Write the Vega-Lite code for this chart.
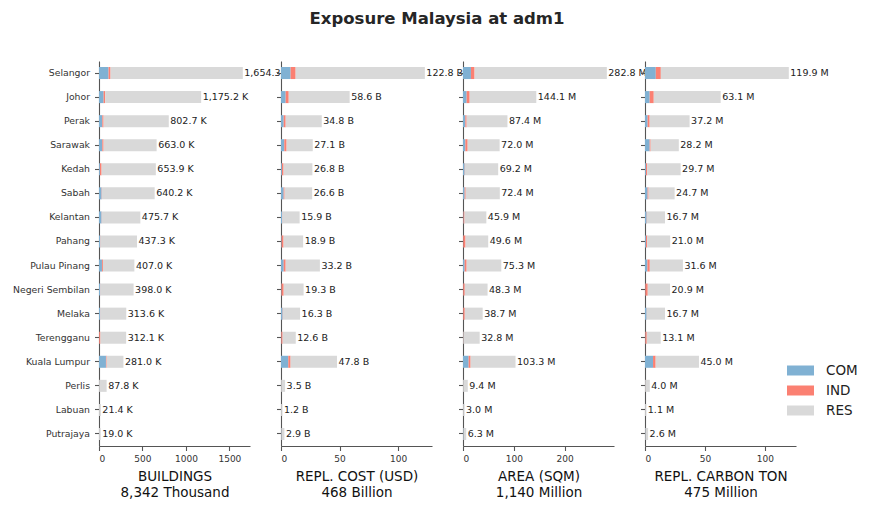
{
  "$schema": "https://vega.github.io/schema/vega-lite/v6.json",
  "padding": {"left": 12, "top": 10, "right": 5, "bottom": 5},
  "title": {"text": "Exposure Malaysia at adm1", "fontSize": 16.5, "font": "DejaVu Sans", "fontWeight": "bold", "color": "#262626", "anchor": "start", "dx": 297, "offset": 34},
  "config": {
    "font": "DejaVu Sans",
    "view": {"stroke": null},
    "axis": {"domainColor": "#555", "domainWidth": 1.1, "tickColor": "#555", "tickWidth": 1.1, "tickSize": 4.5, "labelPadding": 4, "labelColor": "#333", "labelFont": "DejaVu Sans", "labelFontSize": 9, "grid": false, "titleFont": "DejaVu Sans", "titleFontWeight": "normal", "titleFontSize": 13.5, "titleColor": "#111", "titleLineHeight": 16, "titlePadding": 6},
    "axisY": {"labelFontSize": 9.3, "labelPadding": 5}
  },
  "data": {"values": [
    {"region": "Selangor", "sector": "COM", "bld": 110, "cost": 8.2, "area": 15.6, "carbon": 9.0},
    {"region": "Selangor", "sector": "IND", "bld": 23, "cost": 4.3, "area": 7.2, "carbon": 4.2},
    {"region": "Selangor", "sector": "RES", "bld": 1521.3, "cost": 110.3, "area": 260.0, "carbon": 106.7},
    {"region": "Johor", "sector": "COM", "bld": 53, "cost": 4.0, "area": 7.2, "carbon": 3.9},
    {"region": "Johor", "sector": "IND", "bld": 18, "cost": 2.6, "area": 5.9, "carbon": 3.4},
    {"region": "Johor", "sector": "RES", "bld": 1104.2, "cost": 52.0, "area": 131.0, "carbon": 55.8},
    {"region": "Perak", "sector": "COM", "bld": 38, "cost": 2.3, "area": 4.6, "carbon": 2.2},
    {"region": "Perak", "sector": "IND", "bld": 15, "cost": 1.7, "area": 2.6, "carbon": 1.7},
    {"region": "Perak", "sector": "RES", "bld": 749.7, "cost": 30.8, "area": 80.2, "carbon": 33.3},
    {"region": "Sarawak", "sector": "COM", "bld": 38, "cost": 2.8, "area": 4.6, "carbon": 3.9},
    {"region": "Sarawak", "sector": "IND", "bld": 15, "cost": 2.0, "area": 4.6, "carbon": 0.8},
    {"region": "Sarawak", "sector": "RES", "bld": 610.0, "cost": 22.3, "area": 62.8, "carbon": 23.5},
    {"region": "Kedah", "sector": "COM", "bld": 11, "cost": 0.8, "area": 3.3, "carbon": 0.8},
    {"region": "Kedah", "sector": "IND", "bld": 19, "cost": 1.4, "area": 0.5, "carbon": 1.1},
    {"region": "Kedah", "sector": "RES", "bld": 623.9, "cost": 24.6, "area": 65.4, "carbon": 27.8},
    {"region": "Sabah", "sector": "COM", "bld": 30, "cost": 2.3, "area": 3.3, "carbon": 2.2},
    {"region": "Sabah", "sector": "IND", "bld": 3, "cost": 0.8, "area": 2.0, "carbon": 0.8},
    {"region": "Sabah", "sector": "RES", "bld": 607.2, "cost": 23.5, "area": 67.1, "carbon": 21.7},
    {"region": "Kelantan", "sector": "COM", "bld": 30, "cost": 1.1, "area": 1.0, "carbon": 1.4},
    {"region": "Kelantan", "sector": "IND", "bld": 2, "cost": 0.2, "area": 2.0, "carbon": 0.2},
    {"region": "Kelantan", "sector": "RES", "bld": 443.7, "cost": 14.6, "area": 42.9, "carbon": 15.1},
    {"region": "Pahang", "sector": "COM", "bld": 15, "cost": 0.5, "area": 0.5, "carbon": 0.8},
    {"region": "Pahang", "sector": "IND", "bld": 3, "cost": 1.7, "area": 4.5, "carbon": 1.1},
    {"region": "Pahang", "sector": "RES", "bld": 419.3, "cost": 16.7, "area": 44.6, "carbon": 19.1},
    {"region": "Pulau Pinang", "sector": "COM", "bld": 34, "cost": 2.3, "area": 3.3, "carbon": 2.0},
    {"region": "Pulau Pinang", "sector": "IND", "bld": 11, "cost": 1.7, "area": 3.9, "carbon": 2.0},
    {"region": "Pulau Pinang", "sector": "RES", "bld": 362.0, "cost": 29.2, "area": 68.1, "carbon": 27.6},
    {"region": "Negeri Sembilan", "sector": "COM", "bld": 15, "cost": 0.4, "area": 0.5, "carbon": 0.3},
    {"region": "Negeri Sembilan", "sector": "IND", "bld": 2, "cost": 1.9, "area": 3.0, "carbon": 2.0},
    {"region": "Negeri Sembilan", "sector": "RES", "bld": 381.0, "cost": 17.0, "area": 44.8, "carbon": 18.6},
    {"region": "Melaka", "sector": "COM", "bld": 15, "cost": 1.4, "area": 0.5, "carbon": 1.4},
    {"region": "Melaka", "sector": "IND", "bld": 2, "cost": 0.2, "area": 3.0, "carbon": 0.1},
    {"region": "Melaka", "sector": "RES", "bld": 296.6, "cost": 14.7, "area": 35.2, "carbon": 15.2},
    {"region": "Terengganu", "sector": "COM", "bld": 2, "cost": 0.3, "area": 0.3, "carbon": 0.3},
    {"region": "Terengganu", "sector": "IND", "bld": 15, "cost": 1.1, "area": 0.5, "carbon": 1.2},
    {"region": "Terengganu", "sector": "RES", "bld": 295.1, "cost": 11.2, "area": 32.0, "carbon": 11.6},
    {"region": "Kuala Lumpur", "sector": "COM", "bld": 80, "cost": 6.2, "area": 11.1, "carbon": 6.7},
    {"region": "Kuala Lumpur", "sector": "IND", "bld": 8, "cost": 2.0, "area": 3.9, "carbon": 2.2},
    {"region": "Kuala Lumpur", "sector": "RES", "bld": 193.0, "cost": 39.6, "area": 88.3, "carbon": 36.1},
    {"region": "Perlis", "sector": "COM", "bld": 1, "cost": 0.1, "area": 0.2, "carbon": 0.1},
    {"region": "Perlis", "sector": "IND", "bld": 1, "cost": 0.1, "area": 0.2, "carbon": 0.1},
    {"region": "Perlis", "sector": "RES", "bld": 85.8, "cost": 3.3, "area": 9.0, "carbon": 3.8},
    {"region": "Labuan", "sector": "COM", "bld": 1, "cost": 0.1, "area": 0.3, "carbon": 0.1},
    {"region": "Labuan", "sector": "IND", "bld": 0.5, "cost": 0.05, "area": 0.1, "carbon": 0.05},
    {"region": "Labuan", "sector": "RES", "bld": 19.9, "cost": 1.05, "area": 2.6, "carbon": 0.95},
    {"region": "Putrajaya", "sector": "COM", "bld": 1, "cost": 0.3, "area": 0.8, "carbon": 0.3},
    {"region": "Putrajaya", "sector": "IND", "bld": 0.2, "cost": 0.05, "area": 0.05, "carbon": 0.05},
    {"region": "Putrajaya", "sector": "RES", "bld": 17.8, "cost": 2.55, "area": 5.45, "carbon": 2.25}
  ]},
  "spacing": 31,
  "bounds": "flush",
  "resolve": {"scale": {"x": "independent", "y": "independent", "color": "shared"}},
  "hconcat": [
    {
      "width": 151, "height": 385,
      "layer": [
        {"mark": {"type": "bar"},
         "encoding": {
           "y": {"field": "region", "type": "nominal", "sort": ["Selangor","Johor","Perak","Sarawak","Kedah","Sabah","Kelantan","Pahang","Pulau Pinang","Negeri Sembilan","Melaka","Terengganu","Kuala Lumpur","Perlis","Labuan","Putrajaya"], "scale": {"paddingInner": 0.5, "paddingOuter": 0.25}, "axis": {"title": null}},
           "x": {"field": "bld", "type": "quantitative", "stack": "zero", "scale": {"domain": [0, 1737], "nice": false}, "axis": {"values": [0, 500, 1000, 1500], "format": "d", "title": ["BUILDINGS", "8,342 Thousand"]}},
           "color": {"field": "sector", "type": "nominal", "scale": {"domain": ["COM", "IND", "RES"], "range": ["#80b1d3", "#fb8072", "#d9d9d9"]},
             "legend": {"title": null, "orient": "none", "legendX": 688, "legendY": 296, "labelFontSize": 13.5, "labelColor": "#222", "labelFont": "DejaVu Sans", "symbolType": "M-1,-0.37L1,-0.37L1,0.37L-1,0.37Z", "symbolSize": 729, "symbolStrokeWidth": 0, "symbolOpacity": 1, "rowPadding": -5, "labelOffset": 12}},
           "order": {"field": "sector"}
         }},
        {"transform": [{"aggregate": [{"op": "sum", "field": "bld", "as": "tot_bld"}], "groupby": ["region"]}, {"calculate": "format(datum.tot_bld, ',.1f') + ' K'", "as": "lab_bld"}],
         "mark": {"type": "text", "align": "left", "baseline": "middle", "dx": 1.5, "fontSize": 9.5, "color": "#222"},
         "encoding": {
           "y": {"field": "region", "type": "nominal", "sort": ["Selangor","Johor","Perak","Sarawak","Kedah","Sabah","Kelantan","Pahang","Pulau Pinang","Negeri Sembilan","Melaka","Terengganu","Kuala Lumpur","Perlis","Labuan","Putrajaya"]},
           "x": {"field": "tot_bld", "type": "quantitative"},
           "text": {"field": "lab_bld"}
         }}
      ]
    },
    {
      "width": 151, "height": 385,
      "layer": [
        {"mark": {"type": "bar"},
         "encoding": {
           "y": {"field": "region", "type": "nominal", "sort": ["Selangor","Johor","Perak","Sarawak","Kedah","Sabah","Kelantan","Pahang","Pulau Pinang","Negeri Sembilan","Melaka","Terengganu","Kuala Lumpur","Perlis","Labuan","Putrajaya"], "scale": {"paddingInner": 0.5, "paddingOuter": 0.25}, "axis": {"title": null, "labels": false}},
           "x": {"field": "cost", "type": "quantitative", "stack": "zero", "scale": {"domain": [0, 128.9], "nice": false}, "axis": {"values": [0, 50, 100], "title": ["REPL. COST (USD)", "468 Billion"]}},
           "color": {"field": "sector", "type": "nominal", "scale": {"domain": ["COM", "IND", "RES"], "range": ["#80b1d3", "#fb8072", "#d9d9d9"]},
             "legend": {"title": null, "orient": "none", "legendX": 688, "legendY": 296, "labelFontSize": 13.5, "labelColor": "#222", "labelFont": "DejaVu Sans", "symbolType": "M-1,-0.37L1,-0.37L1,0.37L-1,0.37Z", "symbolSize": 729, "symbolStrokeWidth": 0, "symbolOpacity": 1, "rowPadding": -5, "labelOffset": 12}},
           "order": {"field": "sector"}
         }},
        {"transform": [{"aggregate": [{"op": "sum", "field": "cost", "as": "tot_cost"}], "groupby": ["region"]}, {"calculate": "format(datum.tot_cost, ',.1f') + ' B'", "as": "lab_cost"}],
         "mark": {"type": "text", "align": "left", "baseline": "middle", "dx": 1.5, "fontSize": 9.5, "color": "#222"},
         "encoding": {
           "y": {"field": "region", "type": "nominal", "sort": ["Selangor","Johor","Perak","Sarawak","Kedah","Sabah","Kelantan","Pahang","Pulau Pinang","Negeri Sembilan","Melaka","Terengganu","Kuala Lumpur","Perlis","Labuan","Putrajaya"]},
           "x": {"field": "tot_cost", "type": "quantitative"},
           "text": {"field": "lab_cost"}
         }}
      ]
    },
    {
      "width": 151, "height": 385,
      "layer": [
        {"mark": {"type": "bar"},
         "encoding": {
           "y": {"field": "region", "type": "nominal", "sort": ["Selangor","Johor","Perak","Sarawak","Kedah","Sabah","Kelantan","Pahang","Pulau Pinang","Negeri Sembilan","Melaka","Terengganu","Kuala Lumpur","Perlis","Labuan","Putrajaya"], "scale": {"paddingInner": 0.5, "paddingOuter": 0.25}, "axis": {"title": null, "labels": false}},
           "x": {"field": "area", "type": "quantitative", "stack": "zero", "scale": {"domain": [0, 296.9], "nice": false}, "axis": {"values": [0, 100, 200], "title": ["AREA (SQM)", "1,140 Million"]}},
           "color": {"field": "sector", "type": "nominal", "scale": {"domain": ["COM", "IND", "RES"], "range": ["#80b1d3", "#fb8072", "#d9d9d9"]},
             "legend": {"title": null, "orient": "none", "legendX": 688, "legendY": 296, "labelFontSize": 13.5, "labelColor": "#222", "labelFont": "DejaVu Sans", "symbolType": "M-1,-0.37L1,-0.37L1,0.37L-1,0.37Z", "symbolSize": 729, "symbolStrokeWidth": 0, "symbolOpacity": 1, "rowPadding": -5, "labelOffset": 12}},
           "order": {"field": "sector"}
         }},
        {"transform": [{"aggregate": [{"op": "sum", "field": "area", "as": "tot_area"}], "groupby": ["region"]}, {"calculate": "format(datum.tot_area, ',.1f') + ' M'", "as": "lab_area"}],
         "mark": {"type": "text", "align": "left", "baseline": "middle", "dx": 1.5, "fontSize": 9.5, "color": "#222"},
         "encoding": {
           "y": {"field": "region", "type": "nominal", "sort": ["Selangor","Johor","Perak","Sarawak","Kedah","Sabah","Kelantan","Pahang","Pulau Pinang","Negeri Sembilan","Melaka","Terengganu","Kuala Lumpur","Perlis","Labuan","Putrajaya"]},
           "x": {"field": "tot_area", "type": "quantitative"},
           "text": {"field": "lab_area"}
         }}
      ]
    },
    {
      "width": 151, "height": 385,
      "layer": [
        {"mark": {"type": "bar"},
         "encoding": {
           "y": {"field": "region", "type": "nominal", "sort": ["Selangor","Johor","Perak","Sarawak","Kedah","Sabah","Kelantan","Pahang","Pulau Pinang","Negeri Sembilan","Melaka","Terengganu","Kuala Lumpur","Perlis","Labuan","Putrajaya"], "scale": {"paddingInner": 0.5, "paddingOuter": 0.25}, "axis": {"title": null, "labels": false}},
           "x": {"field": "carbon", "type": "quantitative", "stack": "zero", "scale": {"domain": [0, 125.9], "nice": false}, "axis": {"values": [0, 50, 100], "title": ["REPL. CARBON TON", "475 Million"]}},
           "color": {"field": "sector", "type": "nominal", "scale": {"domain": ["COM", "IND", "RES"], "range": ["#80b1d3", "#fb8072", "#d9d9d9"]},
             "legend": {"title": null, "orient": "none", "legendX": 688, "legendY": 296, "labelFontSize": 13.5, "labelColor": "#222", "labelFont": "DejaVu Sans", "symbolType": "M-1,-0.37L1,-0.37L1,0.37L-1,0.37Z", "symbolSize": 729, "symbolStrokeWidth": 0, "symbolOpacity": 1, "rowPadding": -5, "labelOffset": 12}},
           "order": {"field": "sector"}
         }},
        {"transform": [{"aggregate": [{"op": "sum", "field": "carbon", "as": "tot_carbon"}], "groupby": ["region"]}, {"calculate": "format(datum.tot_carbon, ',.1f') + ' M'", "as": "lab_carbon"}],
         "mark": {"type": "text", "align": "left", "baseline": "middle", "dx": 1.5, "fontSize": 9.5, "color": "#222"},
         "encoding": {
           "y": {"field": "region", "type": "nominal", "sort": ["Selangor","Johor","Perak","Sarawak","Kedah","Sabah","Kelantan","Pahang","Pulau Pinang","Negeri Sembilan","Melaka","Terengganu","Kuala Lumpur","Perlis","Labuan","Putrajaya"]},
           "x": {"field": "tot_carbon", "type": "quantitative"},
           "text": {"field": "lab_carbon"}
         }}
      ]
    }
  ]
}
